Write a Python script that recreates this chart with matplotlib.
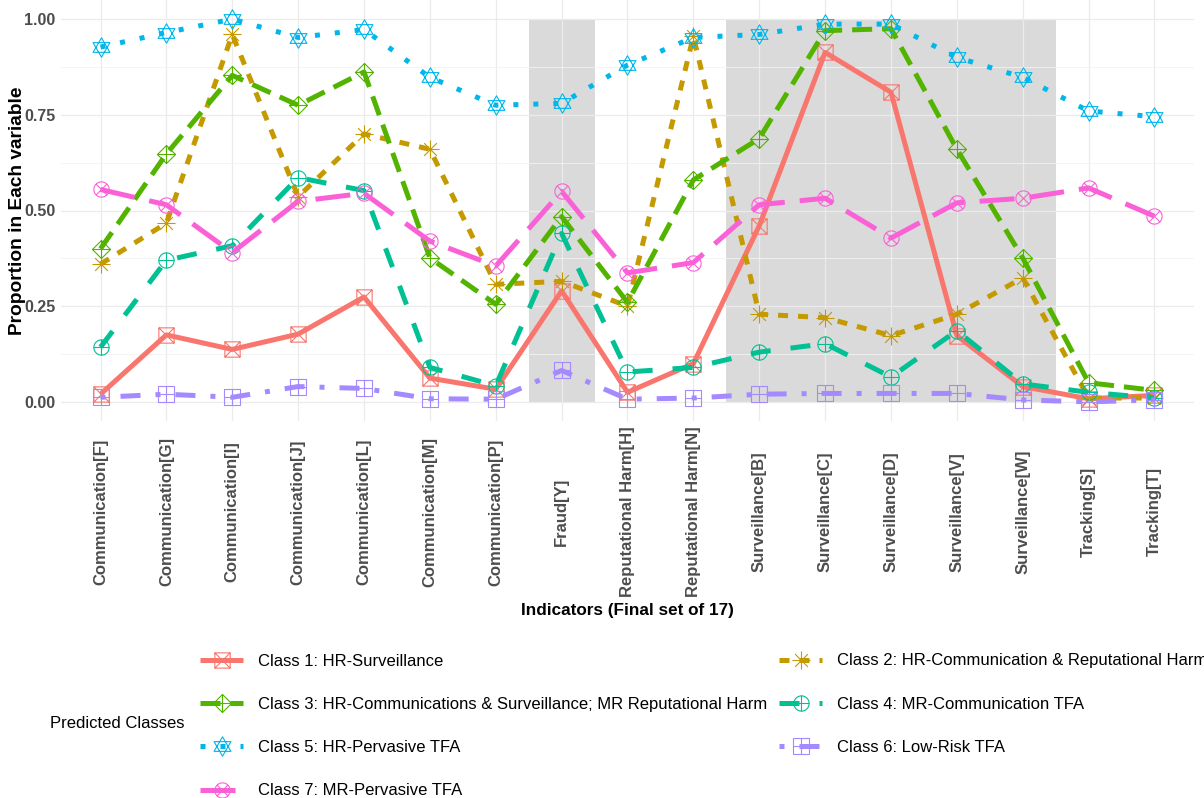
import numpy as np
import matplotlib.pyplot as plt
from matplotlib.path import Path
from matplotlib.patches import Rectangle

plt.rcParams['font.family'] = ['Liberation Sans', 'DejaVu Sans']

indicators = ['Communication[F]', 'Communication[G]', 'Communication[I]', 'Communication[J]',
              'Communication[L]', 'Communication[M]', 'Communication[P]', 'Fraud[Y]',
              'Reputational Harm[H]', 'Reputational Harm[N]', 'Surveillance[B]', 'Surveillance[C]',
              'Surveillance[D]', 'Surveillance[V]', 'Surveillance[W]', 'Tracking[S]', 'Tracking[T]']
shaded_groups = ['Fraud', 'Surveillance']

class_names = ['Class 1: HR-Surveillance',
               'Class 2: HR-Communication & Reputational Harm',
               'Class 3: HR-Communications & Surveillance; MR Reputational Harm',
               'Class 4: MR-Communication TFA',
               'Class 5: HR-Pervasive TFA',
               'Class 6: Low-Risk TFA',
               'Class 7: MR-Pervasive TFA']

class1 = [0.02, 0.175, 0.137, 0.177, 0.274, 0.062, 0.033, 0.29, 0.025, 0.10, 0.46, 0.913, 0.809, 0.173, 0.04, 0.008, 0.017]
class2 = [0.36, 0.467, 0.96, 0.536, 0.70, 0.66, 0.307, 0.315, 0.25, 0.955, 0.229, 0.22, 0.173, 0.229, 0.324, 0.01, 0.01]
class3 = [0.40, 0.648, 0.853, 0.775, 0.862, 0.376, 0.255, 0.484, 0.26, 0.58, 0.688, 0.97, 0.975, 0.66, 0.376, 0.05, 0.03]
class4 = [0.143, 0.37, 0.408, 0.586, 0.552, 0.09, 0.042, 0.44, 0.078, 0.09, 0.13, 0.152, 0.065, 0.186, 0.047, 0.025, 0.01]
class5 = [0.927, 0.965, 1.0, 0.952, 0.973, 0.848, 0.775, 0.78, 0.88, 0.952, 0.96, 0.987, 0.987, 0.90, 0.848, 0.76, 0.745]
class6 = [0.012, 0.02, 0.012, 0.04, 0.035, 0.008, 0.007, 0.082, 0.007, 0.01, 0.02, 0.022, 0.022, 0.022, 0.005, 0.0, 0.005]
class7 = [0.555, 0.515, 0.39, 0.524, 0.545, 0.42, 0.355, 0.55, 0.337, 0.364, 0.515, 0.532, 0.428, 0.52, 0.532, 0.559, 0.485]
series = [class1, class2, class3, class4, class5, class6, class7]

colors = ['#F8766D', '#C49A00', '#53B400', '#00C094', '#00B6EB', '#A58AFF', '#FB61D7']
dashes = [None, (2, 2), (4, 2), (4, 4), (1, 3), (1, 3, 4, 3), (7, 3)]


# ggplot-like open markers built from line pieces
def make_path(parts):
    verts, codes = [], []
    for pts, closed in parts:
        verts += pts
        codes += [Path.MOVETO] + [Path.LINETO] * (len(pts) - 1)
        if closed:
            verts.append(pts[0])
            codes.append(Path.CLOSEPOLY)
    return Path(verts, codes)

t = np.linspace(0, 2 * np.pi, 40)[:-1]
circ = (list(zip(np.cos(t), np.sin(t))), True)
sq = ([(-1, -1), (1, -1), (1, 1), (-1, 1)], True)
d = 0.707
xlines = [([(-1, -1), (1, 1)], False), ([(-1, 1), (1, -1)], False)]
plines = [([(-1, 0), (1, 0)], False), ([(0, -1), (0, 1)], False)]
xcirc = [([(-d, -d), (d, d)], False), ([(-d, d), (d, -d)], False)]
tri_up = ([(0, 1), (-0.866, -0.5), (0.866, -0.5)], True)
tri_dn = ([(0, -1), (-0.866, 0.5), (0.866, 0.5)], True)
diamond = ([(0, -1), (1, 0), (0, 1), (-1, 0)], True)

markers = [make_path([sq] + xlines),
           make_path(plines + xcirc),
           make_path([diamond] + plines),
           make_path([circ] + plines),
           make_path([tri_up, tri_dn]),
           make_path([sq] + plines),
           make_path([circ] + xcirc)]
msizes = [11, 13, 13, 11, 14, 11, 11]

fig = plt.figure(figsize=(12.04, 7.98), dpi=100)
ax = fig.add_axes([61 / 1204, 1 - 421 / 798, 1133 / 1204, 421 / 798])

x = np.arange(len(indicators))

# shaded groups
for g in shaded_groups:
    idx = [i for i, lab in enumerate(indicators) if lab.startswith(g)]
    ax.add_patch(Rectangle((min(idx) - 0.5, 0), max(idx) - min(idx) + 1, 1,
                           facecolor='#DADADA', edgecolor='none', zorder=0.1))

handles = []
for i, vals in enumerate(series):
    ln, = ax.plot(x, vals, color=colors[i], lw=3.6, marker=markers[i], ms=msizes[i],
                  mfc='none', mec=colors[i], mew=0.8, zorder=2,
                  solid_capstyle='butt', dash_capstyle='butt')
    if dashes[i] is not None:
        ln.set_dashes(dashes[i])
    handles.append(ln)

ax.set_xlim(-0.6, len(indicators) - 0.4)
ax.set_ylim(-0.05, 1.05)
ax.set_yticks([0, 0.25, 0.5, 0.75, 1.0])
ax.set_yticklabels(['0.00', '0.25', '0.50', '0.75', '1.00'])
ax.set_yticks([0.125, 0.375, 0.625, 0.875], minor=True)
ax.set_xticks(x)
ax.set_xticklabels([])
for i, lab in enumerate(indicators):
    ax.text(i, (421 - 512) / 421, lab, transform=ax.get_xaxis_transform(), rotation=90,
            ha='center', va='center', fontsize=12, fontweight='bold', color='#4D4D4D')
for lab in ax.get_yticklabels():
    lab.set_fontsize(11.5)
    lab.set_fontweight('bold')
    lab.set_color('#4D4D4D')
ax.tick_params(which='both', length=0, pad=4)
ax.set_axisbelow(True)
ax.grid(which='major', color='#EBEBEB', lw=0.9)
ax.grid(which='minor', axis='y', color='#F2F2F2', lw=0.6)
for s in ax.spines.values():
    s.set_visible(False)

ax.set_ylabel('Proportion in Each variable', fontsize=13.8, fontweight='bold', labelpad=-1)
fig.text(627 / 1204, 1 - 610 / 798, 'Indicators (Final set of 17)', fontsize=12.3,
         fontweight='bold', ha='center', va='center')

leg_size = 12
fpx = leg_size * 100 / 72
row_h = 0.9 * fpx

fig.text(50 / 1204, 1 - 723 / 798, 'Predicted Classes', fontsize=12, ha='left', va='center')
order = [0, 2, 4, 6, 1, 3, 5]
fig.legend([handles[k] for k in order], [class_names[k] for k in order], ncol=2,
           loc='upper left', bbox_to_anchor=(200 / 1204, 1 - (662 - row_h / 2 - 1) / 798),
           frameon=False, prop={'size': leg_size},
           handlelength=43 / fpx, handletextpad=15 / fpx, labelspacing=(43.3 - row_h) / fpx,
           columnspacing=12 / fpx, borderpad=0, borderaxespad=0)

fig.savefig('out.png', dpi=100)
